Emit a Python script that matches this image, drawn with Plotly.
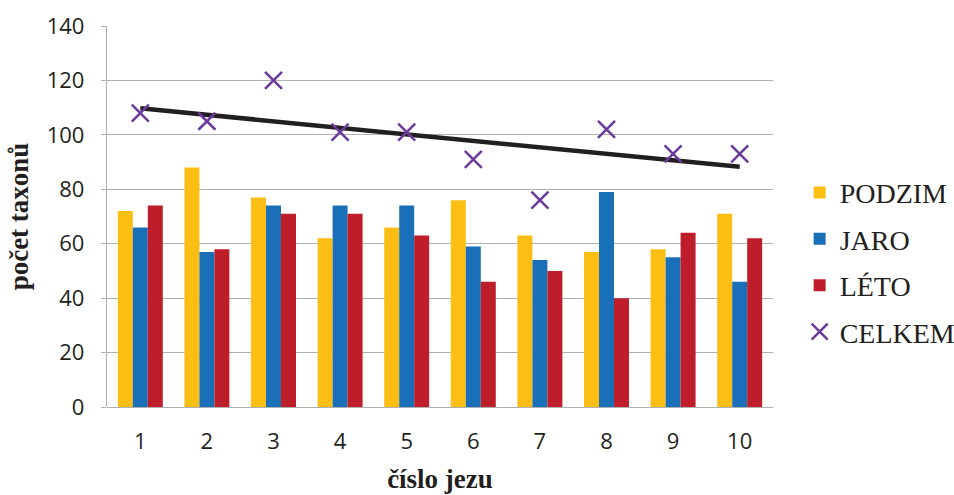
import numpy as np
import plotly.graph_objects as go

categories = [1, 2, 3, 4, 5, 6, 7, 8, 9, 10]
podzim = [72, 88, 77, 62, 66, 76, 63, 57, 58, 71]
jaro = [66, 57, 74, 74, 74, 59, 54, 79, 55, 46]
leto = [74, 58, 71, 71, 63, 46, 50, 40, 64, 62]
celkem = [108, 105, 120, 101, 101, 91, 76, 102, 93, 93]

slope, intercept = np.polyfit(categories, celkem, 1)
trend_x = [categories[0], categories[-1]]
trend_y = [slope * x + intercept for x in trend_x]

fig = go.Figure()
for name, vals, col in [("PODZIM", podzim, "#FDBE14"), ("JARO", jaro, "#1A70B8"), ("LÉTO", leto, "#BE1E2A")]:
    fig.add_trace(go.Bar(x=categories, y=vals, name=name, marker_color=col,
                         marker_line_width=0, legendgroup=name))
fig.add_trace(go.Scatter(x=trend_x, y=trend_y, mode="lines", line=dict(color="#231F20", width=4.5),
                         showlegend=False, hoverinfo="skip"))
fig.add_trace(go.Scatter(x=categories, y=celkem, mode="markers", name="CELKEM", legendgroup="CELKEM",
                         marker=dict(symbol="x-thin", size=17, line=dict(color="#6B3A9A", width=2.5))))

fig.update_layout(
    width=954, height=495,
    margin=dict(l=107, r=181, t=26, b=88, autoexpand=False),
    paper_bgcolor="white", plot_bgcolor="white",
    barmode="group", bargap=0.325, bargroupgap=0,
    legend=dict(x=1.04, xanchor="left", y=0.38, yanchor="middle", tracegroupgap=7,
                font=dict(family="Liberation Serif", size=28, color="#231F20"),
                itemwidth=30, bgcolor="rgba(0,0,0,0)"),
    font=dict(family="Open Sans", color="#231F20"),
)
fig.update_xaxes(range=[0.5, 10.5], tickvals=categories, ticktext=[str(c) for c in categories],
                 tickfont=dict(family="Open Sans", size=22, color="#231F20"), automargin=False,
                 showgrid=False, zeroline=False, showline=False, ticks="", ticklabelstandoff=19,
                 title=dict(text="<b>číslo jezu</b>", font=dict(family="Liberation Serif", size=27, color="#231F20"),
                            standoff=15))
fig.update_yaxes(range=[0, 140], dtick=20, tickfont=dict(family="Open Sans", size=22, color="#231F20"),
                 automargin=False,
                 showgrid=True, gridcolor="#B0B0B0", gridwidth=1.4, zeroline=True, zerolinecolor="#B0B0B0",
                 zerolinewidth=1.4, showline=True, linecolor="#B0B0B0", linewidth=1.4,
                 ticks="outside", ticklen=5, tickcolor="#B0B0B0", ticklabelstandoff=12,
                 title=dict(text="<b>počet taxonů</b>", font=dict(family="Liberation Serif", size=27, color="#231F20"),
                            standoff=10))

fig.write_html("out.html", config={"displayModeBar": False},
               post_script="document.body.style.margin='0';")
